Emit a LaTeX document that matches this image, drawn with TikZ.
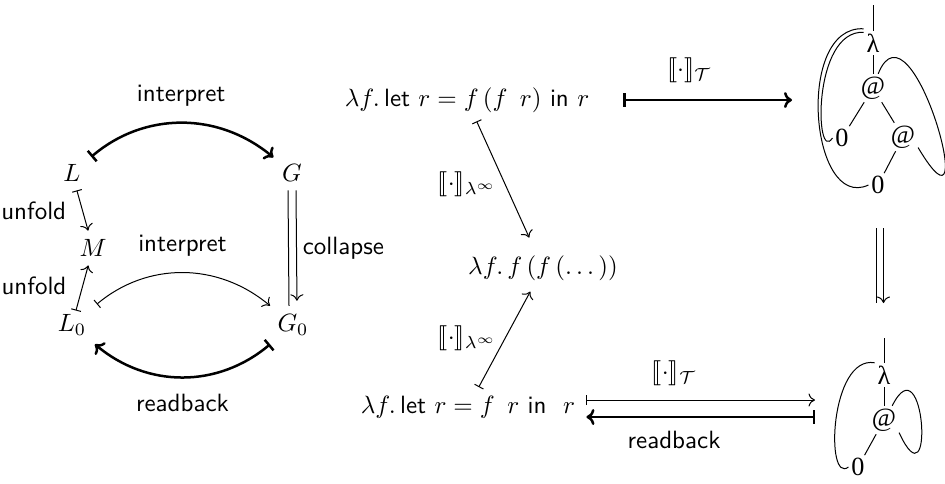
\documentclass[tikz,border=0pt]{standalone}
\usepackage{amsmath}
\usepackage{stmaryrd}
\usepackage{fontspec}
\newfontfamily\graphfont{Liberation Serif}
\usetikzlibrary{arrows.meta}
\tikzset{
  lbl/.style={font=\sffamily},
  thinto/.style={-{To[length=2.6pt,width=5.2pt]}, line width=0.4pt},
  thinmap/.style={{Bar[width=4pt]}-{To[length=2.6pt,width=5.2pt]}, line width=0.4pt},
  thickmap/.style={{Bar[width=5.5pt]}-{To[length=3.2pt,width=6.4pt]}, line width=1pt},
  gnode/.style={inner sep=1pt, font=\graphfont\fontsize{10.5}{11}\selectfont},
  gedge/.style={line width=0.4pt},
}
\begin{document}
\begin{tikzpicture}[x=0.4pt,y=0.4pt]
\useasboundingbox (0,0) rectangle (945,-483);
% ---------------- left diagram
\node (L)  at (72,-173)  {$L$};
\node (G)  at (292,-173) {$G$};
\node (M)  at (93,-248)  {$M$};
\node (L0) at (72,-325)  {$L_0$};
\node (G0) at (293,-325) {$G_0$};
\draw[thickmap, shorten <=1pt] (L) to[bend left=40] node[lbl, above=3pt] {interpret} (G);
\draw[thinmap] (L) -- node[lbl, left=3pt] {unfold} (M);
\draw[thinmap, shorten <=-2pt] (L0) -- node[lbl, left=3pt] {unfold} (M);
\draw[thinmap, shorten <=1pt] (L0) to[bend left=40] node[lbl, above=3pt] {interpret} (G0);
\draw[thickmap] (G0) to[bend left=40] node[lbl, below=3pt] {readback} (L0);
\draw[line width=0.4pt] ([xshift=-1.6pt]G.south) -- ([xshift=-1.6pt]G0.north);
\draw[thinto, shorten >=2pt] ([xshift=1.6pt]G.south) -- node[lbl, right=-1pt] {collapse} ([xshift=1.6pt]G0.north);
% ---------------- middle
\node (T)   at (467,-100) {$\lambda f.\,\textsf{let}\ r = f\,(f\ \,r)\ \textsf{in}\ r$};
\node (Mid) at (543,-268) {$\lambda f.\,f\,(f\,(\dots))$};
\node (B)   at (468,-407) {$\lambda f.\,\textsf{let}\ r = f\ \,r\ \textsf{in}\ \ r$};
\draw[thinmap, shorten >=4pt] (T) -- node[left=0pt] {$\llbracket\cdot\rrbracket_{\lambda^\infty}$} (Mid);
\draw[thinmap, shorten >=1pt] (B) -- node[left=0pt] {$\llbracket\cdot\rrbracket_{\lambda^\infty}$} (Mid);
\coordinate (g1in) at (792,-100);
\draw[thickmap, shorten <=10pt] (T.east |- g1in) -- node[pos=0.47, above=3pt] {$\llbracket\cdot\rrbracket_{\mathcal{T}}$} (g1in);
\coordinate (g2in) at (815,-400);
\coordinate (g2out) at (815,-417);
\draw[thinmap, shorten <=1pt] (B.east |- g2in) -- node[pos=0.39, above=2pt] {$\llbracket\cdot\rrbracket_{\mathcal{T}}$} (g2in);
\draw[thickmap, shorten >=1pt] (g2out) -- node[lbl, pos=0.61, below=2pt] {readback} (B.east |- g2out);
% ---------------- top graph
\coordinate (r1) at (873,-5);
\node[gnode] (lam1) at (873,-43)  {λ};
\node[gnode] (at1)  at (873,-88)  {@};
\node[gnode] (z1)   at (842,-138) {0};
\node[gnode] (at2)  at (903,-137) {@};
\node[gnode] (z2)   at (878,-185) {0};
\draw[gedge] (r1) -- (lam1);
\draw[gedge] (lam1) -- (at1);
\draw[gedge] (at1) -- (z1);
\draw[gedge] (at1) -- (at2);
\draw[gedge] (at2) -- (z2);
\draw[gedge] ([yshift=-0.6pt]lam1.north west) .. controls (812,-30) and (815,-165) .. (z1.west);
\draw[gedge] ([yshift=0.8pt]lam1.north west) .. controls (795,-25) and (810,-212) .. (z2.west);
\draw[gedge] (at1.70) .. controls (912,10) and (985,-260) .. (at2.-35);
% ---------------- double arrow between graphs
\coordinate (da1) at (880,-228);
\coordinate (da2) at (880,-303);
\draw[line width=0.4pt] ([xshift=-1.4pt]da1) -- ([xshift=-1.4pt]da2);
\draw[thinto] ([xshift=1.4pt]da1) -- ([xshift=1.4pt]da2);
% ---------------- bottom graph
\coordinate (r2) at (884,-338);
\node[gnode] (lam2) at (884,-375) {λ};
\node[gnode] (at3)  at (884,-420) {@};
\node[gnode] (z3)   at (858,-467) {0};
\draw[gedge] (r2) -- (lam2);
\draw[gedge] (lam2) -- (at3);
\draw[gedge] (at3) -- (z3);
\draw[gedge] (lam2.north west) .. controls (830,-355) and (825,-485) .. (z3.west);
\draw[gedge] (at3.60) .. controls (925,-340) and (935,-510) .. (at3.-40);
\end{tikzpicture}
\end{document}
